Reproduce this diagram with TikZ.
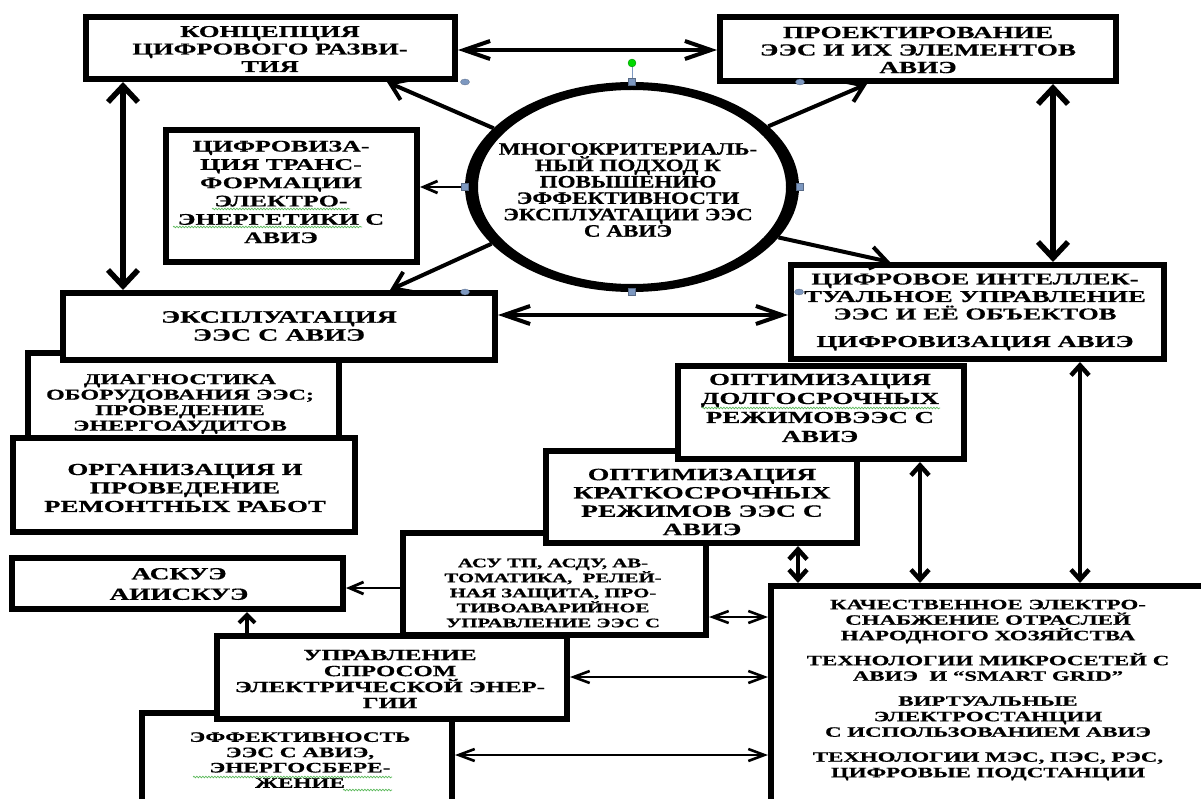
\documentclass[tikz,border=0pt]{standalone}
\usepackage{fontspec}
\setmainfont{Liberation Serif}[FakeStretch=1.6, BoldFeatures={FakeBold=0.6}]
\newfontfamily\circfont{Liberation Serif}[FakeStretch=1.32, BoldFeatures={FakeBold=0.6}]
\usetikzlibrary{arrows.meta,decorations.pathmorphing,shapes.geometric}
\definecolor{hdl}{RGB}{125,152,192}
\definecolor{spell}{RGB}{90,185,90}
\newcommand\myfs[2]{\fontsize{#1}{#2}\selectfont}
\newcommand\mybox[5]{\node[box, minimum width={#4-#2-6}, minimum height={#5-#3-6}, anchor=north west] (#1) at (#2,#3) {};}
\tikzset{
  box/.style={draw, line width=6pt, outer sep=3pt, fill=white, rectangle, inner sep=0pt},
  txt/.style={align=center, inner sep=0pt, font=\bfseries},
  hbig/.style={line width=4pt, {Straight Barb[length=26pt,width=18pt]}-{Straight Barb[length=26pt,width=18pt]}},
  vbig/.style={line width=5.5pt, {Straight Barb[length=16pt,width=30pt]}-{Straight Barb[length=16pt,width=30pt]}},
  spoke/.style={line width=4pt, -{Straight Barb[length=16pt,width=22pt]}},
  hs/.style={line width=2.8pt, -{Straight Barb[length=14pt,width=12pt]}},
  vs/.style={line width=4pt, -{Straight Barb[length=8pt,width=16pt]}},
  hsd/.style={line width=2.6pt, {Straight Barb[length=16pt,width=12pt]}-{Straight Barb[length=16pt,width=12pt]}},
  vsd/.style={line width=4.5pt, {Straight Barb[length=10pt,width=18pt]}-{Straight Barb[length=10pt,width=18pt]}},
  hdot/.style={ellipse, fill=hdl, draw=hdl!70!black, line width=0.3pt, minimum width=9pt, minimum height=6pt, inner sep=0pt},
  hsq/.style={rectangle, fill=hdl, draw=hdl!70!black, line width=0.3pt, minimum size=7pt, inner sep=0pt},
  wavy/.style={draw=spell, line width=0.7pt, decorate, decoration={snake, amplitude=0.8pt, segment length=3pt}},
}
\begin{document}
\begin{tikzpicture}[x=1pt,y=-1pt]
\useasboundingbox (0,0) rectangle (1201,799);
\fill[white] (0,0) rectangle (1201,799);

% boxes (outer coordinates), stacking order
\mybox{A}{83}{14}{458}{82}
\mybox{B}{717}{14}{1119}{84}
\mybox{C}{163}{127}{420}{265}
\mybox{F}{25}{350}{342}{450}
\mybox{E}{60}{290}{498}{363}
\mybox{G}{10}{435}{358}{535}
\mybox{H}{9}{555}{346}{612}
\mybox{L}{768}{583}{1215}{820}
\mybox{N}{139}{710}{455}{820}
\mybox{M}{214}{633}{570}{722}
\mybox{I}{400}{530}{709}{638}
\mybox{J}{543}{448}{860}{546}
\mybox{K}{675}{363}{967}{462}
\mybox{D}{788}{262}{1167}{362}

% central ellipse: ring thicker at the sides, as in the stretched original
\node[ellipse, minimum width=334, minimum height=210, inner sep=0pt, outer sep=0pt] (O) at (632,187) {};
\fill[even odd rule] (O.center) ellipse [x radius=167, y radius=105] (O.center) ellipse [x radius=154, y radius=97];

% texts
\node[txt, font=\bfseries\myfs{16.6}{17.5}] (At) at (270,49) {КОНЦЕПЦИЯ\\ЦИФРОВОГО РАЗВИ-\\ТИЯ};
\node[txt, font=\bfseries\myfs{17}{17.5}] (Bt) at (918,50) {ПРОЕКТИРОВАНИЕ\\ЭЭС И ИХ ЭЛЕМЕНТОВ\\АВИЭ};
\node[txt, font=\bfseries\myfs{16.2}{18.3}] (Ct) at (281,192) {ЦИФРОВИЗА-\\ЦИЯ ТРАНС-\\ФОРМАЦИИ\\ЭЛЕКТРО-\\ЭНЕРГЕТИКИ С\\АВИЭ};
\node[txt, font=\circfont\bfseries\myfs{17.5}{16.4}] (Ot) at (628,190) {МНОГОКРИТЕРИАЛЬ-\\НЫЙ ПОДХОД К\\ПОВЫШЕНИЮ\\ЭФФЕКТИВНОСТИ\\ЭКСПЛУАТАЦИИ ЭЭС\\С АВИЭ};
\node[txt, font=\bfseries\myfs{16.7}{17.5}] (Dt) at (975,312) {ЦИФРОВОЕ ИНТЕЛЛЕК-\\ТУАЛЬНОЕ УПРАВЛЕНИЕ\\ЭЭС И ЕЁ ОБЪЕКТОВ\\[10pt]ЦИФРОВИЗАЦИЯ АВИЭ};
\node[txt, font=\bfseries\myfs{17.5}{18}] (Et) at (279,326) {ЭКСПЛУАТАЦИЯ\\ЭЭС С АВИЭ};
\node[txt, font=\bfseries\myfs{15}{15.5}] (Ft) at (180,404) {ДИАГНОСТИКА\\ОБОРУДОВАНИЯ ЭЭС;\\ПРОВЕДЕНИЕ\\ЭНЕРГОАУДИТОВ};
\node[txt, font=\bfseries\myfs{16.8}{18.5}] (Gt) at (185,488) {ОРГАНИЗАЦИЯ И\\ПРОВЕДЕНИЕ\\РЕМОНТНЫХ РАБОТ};
\node[txt, font=\bfseries\myfs{17}{20.5}] (Ht) at (179,584) {АСКУЭ\\АИИСКУЭ};
\node[txt, font=\bfseries\myfs{13}{15}] (It) at (553,593) {АСУ ТП, АСДУ, АВ-\\ТОМАТИКА,\ \ РЕЛЕЙ-\\НАЯ ЗАЩИТА, ПРО-\\ТИВОАВАРИЙНОЕ\\УПРАВЛЕНИЕ ЭЭС С};
\node[txt, font=\bfseries\myfs{17.3}{18.3}] (Jt) at (702,502) {ОПТИМИЗАЦИЯ\\КРАТКОСРОЧНЫХ\\РЕЖИМОВ ЭЭС С\\АВИЭ};
\node[txt, font=\bfseries\myfs{16.8}{19}] (Kt) at (820,408) {ОПТИМИЗАЦИЯ\\ДОЛГОСРОЧНЫХ\\РЕЖИМОВЭЭС С\\АВИЭ};
\node[txt, font=\bfseries\myfs{14.3}{15.5}] (Lt) at (988,690) {КАЧЕСТВЕННОЕ ЭЛЕКТРО-\\СНАБЖЕНИЕ ОТРАСЛЕЙ\\НАРОДНОГО ХОЗЯЙСТВА\\[9.5pt]ТЕХНОЛОГИИ МИКРОСЕТЕЙ С\\АВИЭ\ \ И “SMART GRID”\\[9.5pt]ВИРТУАЛЬНЫЕ\\ЭЛЕКТРОСТАНЦИИ\\С ИСПОЛЬЗОВАНИЕМ АВИЭ\\[9.5pt]ТЕХНОЛОГИИ МЭС, ПЭС, РЭС,\\ЦИФРОВЫЕ ПОДСТАНЦИИ};
\node[txt, font=\bfseries\myfs{15.5}{16}] (Mt) at (390,679) {УПРАВЛЕНИЕ\\СПРОСОМ\\ЭЛЕКТРИЧЕСКОЙ ЭНЕР-\\ГИИ};
\node[txt, font=\bfseries\myfs{14.5}{15.3}] (Nt) at (300,760) {ЭФФЕКТИВНОСТЬ\\ЭЭС С АВИЭ,\\ЭНЕРГОСБЕРЕ-\\ЖЕНИЕ};

% spell-check underlines
\draw[wavy] (212,209) -- (350,209);
\draw[wavy] (173,227) -- (362,227);
\draw[wavy] (702,408) -- (940,408);
\draw[wavy] (193,777) -- (392,777);
\draw[wavy] (343,790) -- (392,790);

% helper coordinates for connector positions
\coordinate (xAE) at (123,0);
\coordinate (xBD) at (1053,0);
\coordinate (yAB) at (0,50);
\coordinate (yED) at (0,315);
\coordinate (xDL) at (1080,0);
\coordinate (xKL) at (920,0);
\coordinate (xJL) at (798,0);
\coordinate (yIL) at (0,617);
\coordinate (yML) at (0,677);
\coordinate (yNL) at (0,755);
\coordinate (yIH) at (0,588);
\coordinate (xMH) at (247,0);
\coordinate (xOA) at (387,0);
\coordinate (xOB) at (867,0);
\coordinate (xOD) at (890,0);
\coordinate (xOE) at (390,0);

% connectors
\draw[vbig] (A.south -| xAE) -- (E.north -| xAE);
\draw[hbig] (A.east |- yAB) -- (B.west |- yAB);
\draw[vbig] (B.south -| xBD) -- (D.north -| xBD);
\draw[hbig] (E.east |- yED) -- (D.west |- yED);
\draw[spoke] (O.157) -- (A.south -| xOA);
\draw[spoke] (O.24) -- (B.south -| xOB);
\draw[spoke] (O.-19) -- (D.north -| xOD);
\draw[spoke] (O.202) -- (E.north -| xOE);
\draw[hs] (O.west) -- (O.west -| C.east);
\draw[vsd] (D.south -| xDL) -- (L.north -| xDL);
\draw[vsd] (K.south -| xKL) -- (L.north -| xKL);
\draw[vsd] (J.south -| xJL) -- (L.north -| xJL);
\draw[hsd] (I.east |- yIL) -- (L.west |- yIL);
\draw[hsd] (M.east |- yML) -- (L.west |- yML);
\draw[hsd] (N.east |- yNL) -- (L.west |- yNL);
\draw[hs] (I.west |- yIH) -- (H.east |- yIH);
\draw[vs] (M.north -| xMH) -- (H.south -| xMH);

% selection handles of the ellipse
\draw[hdl, line width=0.8pt] (632,63) -- (632,82);
\node[circle, fill=green!85!black, draw=green!50!black, line width=0.3pt, minimum size=8pt, inner sep=0pt] (hr) at (632,63) {};
\node[hdot] (h1) at (465,82) {};
\node[hdot] (h2) at (800,82) {};
\node[hdot] (h3) at (465,292) {};
\node[hdot] (h4) at (799,292) {};
\node[hsq] (h5) at (632,82) {};
\node[hsq] (h6) at (465,187) {};
\node[hsq] (h7) at (800,187) {};
\node[hsq] (h8) at (632,292) {};
\end{tikzpicture}
\end{document}
